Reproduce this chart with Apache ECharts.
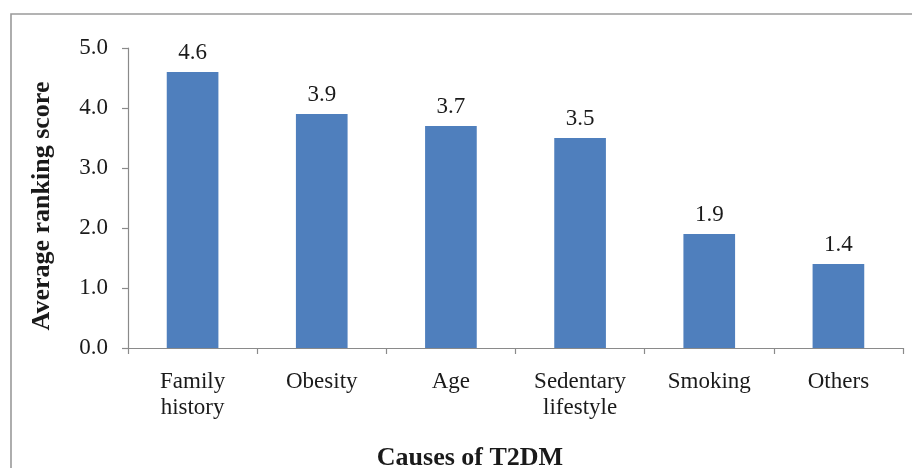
<!DOCTYPE html>
<html>
<head>
<meta charset="utf-8">
<script src="https://cdn.jsdelivr.net/npm/echarts@6/dist/echarts.min.js"></script>
<style>
  html, body { margin: 0; padding: 0; background: #ffffff; }
  #chart { width: 912px; height: 468px; }
</style>
</head>
<body>
<div id="chart"></div>
<script>
// Causes of type 2 diabetes, ranked by respondents
const causes = ['Family\nhistory', 'Obesity', 'Age', 'Sedentary\nlifestyle', 'Smoking', 'Others'];
const avgScores = [4.6, 3.9, 3.7, 3.5, 1.9, 1.4];
const scoreAxis = { min: 0, max: 5, step: 1 };
const xTitle = 'Causes of T2DM';
const yTitle = 'Average ranking score';

const serif = "'Liberation Serif', 'Times New Roman', serif";
const axisGray = '#8a8a8a';
const textColor = '#1a1a1a';

const chart = echarts.init(document.getElementById('chart'), null, { renderer: 'canvas' });

chart.setOption({
  animation: false,
  backgroundColor: '#ffffff',
  grid: { left: 128, right: 9, top: 48, bottom: 120, containLabel: false },
  xAxis: {
    type: 'category',
    data: causes,
    boundaryGap: true,
    axisLine: { lineStyle: { color: axisGray, width: 1.2 } },
    axisTick: { show: true, length: 6, alignWithLabel: false, lineStyle: { color: axisGray, width: 1.2 } },
    axisLabel: {
      interval: 0,
      margin: 21,
      color: textColor,
      fontFamily: serif,
      fontSize: 23,
      lineHeight: 26
    },
    splitLine: { show: false }
  },
  yAxis: {
    type: 'value',
    min: scoreAxis.min,
    max: scoreAxis.max,
    interval: scoreAxis.step,
    axisLine: { show: true, lineStyle: { color: axisGray, width: 1.2 } },
    axisTick: { show: true, length: 6, inside: false, lineStyle: { color: axisGray, width: 1.2 } },
    axisLabel: {
      margin: 20,
      color: textColor,
      fontFamily: serif,
      fontSize: 23,
      formatter: v => v.toFixed(1)
    },
    splitLine: { show: false }
  },
  series: [{
    type: 'bar',
    data: avgScores,
    barCategoryGap: '60%',
    itemStyle: { color: '#4f7fbd' },
    label: {
      show: true,
      position: 'top',
      distance: 8,
      color: textColor,
      fontFamily: serif,
      fontSize: 23,
      formatter: p => p.value.toFixed(1)
    }
  }],
  graphic: [
    {
      // outer frame around the chart area
      type: 'rect',
      silent: true,
      shape: { x: 11, y: 14, width: 940, height: 520 },
      style: { fill: 'none', stroke: '#9a9a9a', lineWidth: 1.6 }
    },
    {
      type: 'text',
      silent: true,
      x: 42,
      y: 206,
      rotation: Math.PI / 2,
      style: {
        text: yTitle,
        font: "bold 26px 'Liberation Serif', 'Times New Roman', serif",
        fill: textColor,
        textAlign: 'center',
        textVerticalAlign: 'middle'
      }
    },
    {
      type: 'text',
      silent: true,
      x: 470,
      y: 458,
      style: {
        text: xTitle,
        font: "bold 26px 'Liberation Serif', 'Times New Roman', serif",
        fill: textColor,
        textAlign: 'center',
        textVerticalAlign: 'middle'
      }
    }
  ]
});
</script>
</body>
</html>
